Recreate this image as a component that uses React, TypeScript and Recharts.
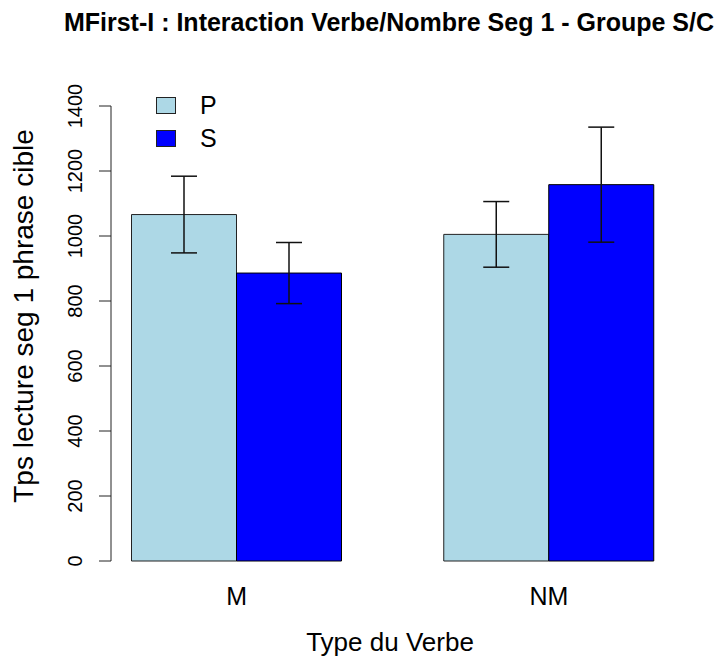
import React from 'react';
import { BarChart, Bar, XAxis, YAxis, ErrorBar, Legend } from 'recharts';

// valeurs (ms)
const categories = ['M', 'NM'];
const meansP = [1066, 1005];
const meansS = [886, 1158];
const errP = [118, 101];
const errS = [94, 177];
const yTicks = [0, 200, 400, 600, 800, 1000, 1200, 1400];

const data = categories.map((type, i) => ({
  type,
  P: meansP[i],
  S: meansS[i],
  errP: errP[i],
  errS: errS[i],
}));

const FONT = '"Liberation Sans", Arial, sans-serif';

const YTick = (props: any) => {
  const { x, y, payload } = props;
  const bx = x - 17;
  return (
    <text
      x={bx}
      y={y}
      transform={`rotate(-90, ${bx}, ${y})`}
      textAnchor="middle"
      fontSize={20}
      fill="#000"
      fontFamily={FONT}
    >
      {payload.value}
    </text>
  );
};

const XTick = (props: any) => {
  const { x, y, payload } = props;
  return (
    <text x={x} y={y + 44} textAnchor="middle" fontSize={25} fill="#000" fontFamily={FONT}>
      {payload.value}
    </text>
  );
};

const LegendBox = (props: any) => {
  const { payload } = props;
  return (
    <div style={{ fontFamily: FONT, fontSize: 25, color: '#000' }}>
      {(payload || []).map((entry: any) => (
        <div key={entry.value} style={{ display: 'flex', alignItems: 'center', height: 33 }}>
          <span
            style={{
              display: 'inline-block',
              width: 20,
              height: 17,
              boxSizing: 'border-box',
              background: entry.color,
              border: '1px solid #222',
            }}
          />
          <span style={{ marginLeft: 24, lineHeight: '33px' }}>{entry.value}</span>
        </div>
      ))}
    </div>
  );
};

const App: React.FC = () => {
  return (
    <div style={{ position: 'absolute', left: 0, top: 0 }}>
      <BarChart
        width={719}
        height={659}
        data={data}
        margin={{ top: 106, right: 14, bottom: 0, left: 0 }}
        barGap={0}
        barCategoryGap={51}
        style={{ fontFamily: FONT }}
      >
        <text x={389} y={31} textAnchor="middle" fontSize={25} fontWeight="bold" fontFamily={FONT} fill="#000">
          MFirst-I : Interaction Verbe/Nombre Seg 1 - Groupe S/C
        </text>
        <text x={390} y={651} textAnchor="middle" fontSize={26} fontFamily={FONT} fill="#000">
          Type du Verbe
        </text>
        <text
          x={33}
          y={316}
          transform="rotate(-90, 33, 316)"
          textAnchor="middle"
          fontSize={28}
          fontFamily={FONT}
          fill="#000"
        >
          Tps lecture seg 1 phrase cible
        </text>
        <XAxis
          dataKey="type"
          axisLine={false}
          tickLine={false}
          tickSize={0}
          tickMargin={0}
          height={98}
          padding={{ left: -30.5, right: 0 }}
          tick={<XTick />}
        />
        <YAxis
          domain={[0, 1400]}
          ticks={yTicks}
          width={111}
          tickSize={12}
          tickMargin={0}
          axisLine={{ stroke: '#222' }}
          tickLine={{ stroke: '#222' }}
          tick={<YTick />}
          interval={0}
        />
        <Legend
          layout="vertical"
          align="center"
          verticalAlign="middle"
          wrapperStyle={{ left: 156, top: 89, width: 'auto' }}
          content={<LegendBox />}
        />
        <Bar dataKey="P" fill="#ADD8E6" stroke="#222" strokeWidth={1} isAnimationActive={false}>
          <ErrorBar dataKey="errP" width={13} stroke="#111" strokeWidth={1.5} />
        </Bar>
        <Bar dataKey="S" fill="#0000FF" stroke="#000" strokeWidth={1} isAnimationActive={false}>
          <ErrorBar dataKey="errS" width={13} stroke="#111" strokeWidth={1.5} />
        </Bar>
      </BarChart>
    </div>
  );
};

export default App;
